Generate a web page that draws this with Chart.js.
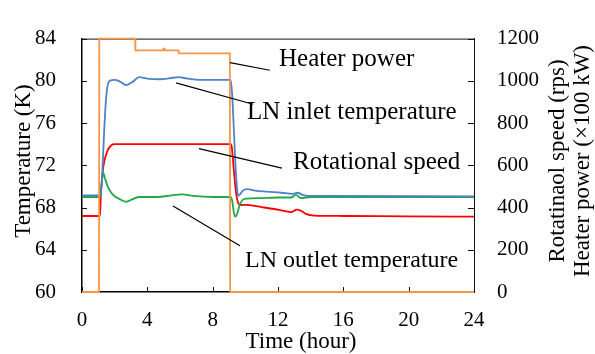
<!DOCTYPE html>
<html>
<head>
<meta charset="utf-8">
<script src="https://cdn.jsdelivr.net/npm/chart.js@4.4.1/dist/chart.umd.min.js"></script>
<style>
  body { margin: 0; background: #fff; }
</style>
</head>
<body>
<canvas id="chart" width="595" height="354"></canvas>
<script>
// time in hours
const heaterTime = [0, 1.04, 1.06, 3.25, 3.27, 4.98, 5.0, 5.05, 5.07, 5.9, 5.92, 9.05, 9.07, 24];
const heaterPower = [0, 0, 1200, 1200, 1144, 1144, 1152, 1152, 1144, 1144, 1130, 1130, 0, 0];

const speedTime = [0, 1.1, 1.15, 1.25, 1.4, 1.6, 1.8, 2.0, 9.12, 9.18, 9.25, 9.35, 9.45, 9.55, 9.7, 10.0, 11.0, 12.0, 12.8, 13.15, 13.4, 13.7, 14.2, 16.0, 20.0, 24.0];
const speedValues = [360, 360, 450, 560, 630, 675, 695, 700, 700, 680, 620, 530, 460, 425, 412, 413, 402, 390, 378, 390, 385, 370, 362, 360, 358, 357];

const inletTime = [0, 1.15, 1.25, 1.35, 1.45, 1.55, 1.7, 2.0, 2.3, 2.7, 3.1, 3.5, 4.0, 4.8, 5.4, 5.9, 6.5, 7.2, 9.1, 9.18, 9.28, 9.38, 9.48, 9.56, 9.7, 9.85, 10.1, 10.6, 11.3, 12.2, 12.9, 13.2, 13.5, 13.8, 15, 24];
const inletTemp = [69.15, 69.15, 71.5, 75.0, 77.8, 79.4, 80.0, 80.1, 79.95, 79.6, 79.9, 80.35, 80.2, 80.15, 80.25, 80.35, 80.2, 80.1, 80.1, 79.0, 76.0, 72.5, 70.0, 69.1, 69.3, 69.6, 69.75, 69.6, 69.5, 69.4, 69.3, 69.4, 69.2, 69.1, 69.1, 69.05];

const outletTime = [0, 1.1, 1.2, 1.3, 1.4, 1.6, 1.9, 2.3, 2.7, 3.1, 3.5, 4.5, 5.5, 6.1, 6.8, 8.0, 9.1, 9.2, 9.3, 9.38, 9.5, 9.65, 9.85, 10.1, 11, 12, 12.8, 13.1, 13.4, 14, 24];
const outletTemp = [69.0, 69.0, 70.2, 71.3, 70.8, 69.9, 69.2, 68.8, 68.55, 68.8, 69.0, 69.0, 69.15, 69.25, 69.1, 69.0, 69.0, 68.6, 67.5, 67.15, 67.4, 68.2, 68.75, 68.85, 68.9, 68.95, 68.95, 69.2, 68.9, 69.0, 69.0];

const timeTicks = [0, 4, 8, 12, 16, 20, 24];

const serif = "'Liberation Serif', 'Times New Roman', serif";

// leader lines in data units (hour, K) and label text positions
const notes = [
  { text: 'Heater power', from: [9.06, 81.72], to: [11.5, 81.0], at: [279, 66], size: 25 },
  { text: 'LN inlet temperature', from: [5.76, 79.8], to: [10.47, 77.78], at: [247, 119], size: 25 },
  { text: 'Rotational speed', from: [7.16, 73.58], to: [12.24, 71.74], at: [293, 169], size: 25 },
  { text: 'LN outlet temperature', from: [5.57, 68.15], to: [9.67, 64.38], at: [245, 266.5], size: 24 }
];

const toPoints = (xs, ys) => xs.map((x, i) => ({ x: x, y: ys[i] }));

const decorations = {
  id: 'decorations',
  beforeDatasetsDraw(chart) {
    const { ctx, chartArea } = chart;
    ctx.save();
    ctx.strokeStyle = '#111';
    ctx.lineWidth = 1;
    ctx.beginPath();
    ctx.moveTo(chartArea.left, chartArea.top + 0.5);
    ctx.lineTo(chartArea.right, chartArea.top + 0.5);
    ctx.stroke();

    // inward tick marks
    const { x, y, y2 } = chart.scales;
    ctx.beginPath();
    x.ticks.forEach(t => {
      const px = Math.round(x.getPixelForValue(t.value)) + 0.5;
      ctx.moveTo(px, chartArea.bottom);
      ctx.lineTo(px, chartArea.bottom - 5);
    });
    y.ticks.forEach(t => {
      const py = Math.round(y.getPixelForValue(t.value)) + 0.5;
      ctx.moveTo(chartArea.left, py);
      ctx.lineTo(chartArea.left + 5, py);
    });
    y2.ticks.forEach(t => {
      const py = Math.round(y2.getPixelForValue(t.value)) + 0.5;
      ctx.moveTo(chartArea.right, py);
      ctx.lineTo(chartArea.right - 6, py);
    });
    ctx.stroke();
    ctx.restore();
  },
  afterDraw(chart) {
    const { ctx } = chart;
    const { x, y } = chart.scales;
    ctx.save();

    // leader lines
    ctx.strokeStyle = '#000';
    ctx.lineWidth = 1.2;
    notes.forEach(n => {
      ctx.beginPath();
      ctx.moveTo(x.getPixelForValue(n.from[0]), y.getPixelForValue(n.from[1]));
      ctx.lineTo(x.getPixelForValue(n.to[0]), y.getPixelForValue(n.to[1]));
      ctx.stroke();
    });

    ctx.fillStyle = '#000';
    ctx.textAlign = 'left';
    ctx.textBaseline = 'alphabetic';
    notes.forEach(n => {
      ctx.font = n.size + 'px ' + serif;
      ctx.fillText(n.text, n.at[0], n.at[1]);
    });

    // axis titles
    ctx.font = '23px ' + serif;
    ctx.textAlign = 'center';
    ctx.fillText('Time (hour)', 301, 348);

    ctx.save();
    ctx.translate(30, 161);
    ctx.rotate(-Math.PI / 2);
    ctx.fillText('Temperature (K)', 0, 0);
    ctx.restore();

    ctx.save();
    ctx.translate(564, 161);
    ctx.rotate(-Math.PI / 2);
    ctx.fillText('Rotatinaol speed (rps)', 0, 0);
    ctx.restore();

    ctx.save();
    ctx.translate(589, 161);
    ctx.rotate(-Math.PI / 2);
    ctx.fillText('Heater power (\u00d7100 kW)', 0, 0);
    ctx.restore();

    ctx.restore();
  }
};

const tickFont = { family: serif, size: 21 };

new Chart(document.getElementById('chart'), {
  type: 'line',
  data: {
    datasets: [
      {
        label: 'Heater power',
        data: toPoints(heaterTime, heaterPower),
        yAxisID: 'y2',
        borderColor: '#F79646',
        borderWidth: 1.8,
        tension: 0,
        order: 0
      },
      {
        label: 'LN inlet temperature',
        data: toPoints(inletTime, inletTemp),
        yAxisID: 'y',
        borderColor: '#4F81C7',
        borderWidth: 1.8,
        cubicInterpolationMode: 'monotone',
        order: 1
      },
      {
        label: 'LN outlet temperature',
        data: toPoints(outletTime, outletTemp),
        yAxisID: 'y',
        borderColor: '#1FA84A',
        borderWidth: 1.8,
        cubicInterpolationMode: 'monotone',
        order: 2
      },
      {
        label: 'Rotational speed',
        data: toPoints(speedTime, speedValues),
        yAxisID: 'y2',
        borderColor: '#FF0000',
        borderWidth: 1.8,
        cubicInterpolationMode: 'monotone',
        order: 3
      }
    ]
  },
  options: {
    responsive: false,
    animation: false,
    clip: 3,
    layout: { padding: { top: 18, left: 0, right: 0, bottom: 0 } },
    elements: { point: { radius: 0 } },
    plugins: {
      legend: { display: false },
      tooltip: { enabled: false }
    },
    scales: {
      x: {
        type: 'linear',
        min: 0,
        max: 24,
        afterBuildTicks: scale => { scale.ticks = timeTicks.map(v => ({ value: v })); },
        afterFit: scale => { scale.height = 62; },
        ticks: { font: tickFont, color: '#000', padding: 16, maxRotation: 0, callback: v => String(v) },
        grid: { display: false, drawTicks: false },
        border: { display: true, color: '#000', width: 1.5 }
      },
      y: {
        position: 'left',
        min: 60,
        max: 84,
        afterFit: scale => { scale.width = 82; },
        ticks: { stepSize: 4, font: tickFont, color: '#000', padding: 26, callback: v => String(v) },
        grid: { display: false, drawTicks: false },
        border: { display: true, color: '#000', width: 1.5 }
      },
      y2: {
        position: 'right',
        min: 0,
        max: 1200,
        afterFit: scale => { scale.width = 121; },
        ticks: { stepSize: 200, font: tickFont, color: '#000', padding: 23, callback: v => String(v) },
        grid: { display: false, drawTicks: false },
        border: { display: true, color: '#111', width: 1 }
      }
    }
  },
  plugins: [decorations]
});
</script>
</body>
</html>
